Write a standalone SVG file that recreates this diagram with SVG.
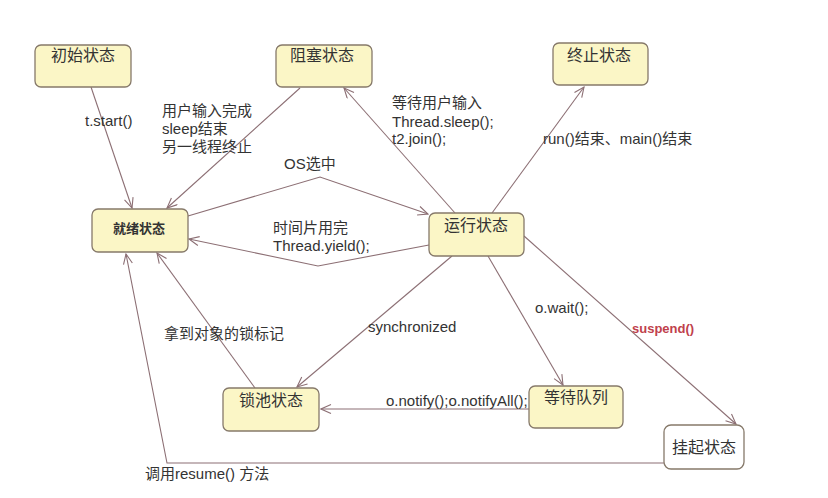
<svg xmlns="http://www.w3.org/2000/svg" width="828" height="498" viewBox="0 0 828 498">
<style>
.node{fill:#fbf6c6;stroke:#86796a;stroke-width:1.3}
.white{fill:#ffffff;stroke:#86796a;stroke-width:1.3}
.nt{font-family:"Noto Sans CJK SC","Liberation Sans",sans-serif;font-size:16px;fill:#333;text-anchor:middle}
.lb{font-family:"Liberation Sans","Noto Sans CJK SC",sans-serif;font-size:15px;fill:#333}
.conn{fill:none;stroke:#8c6f74;stroke-width:1.1;marker-end:url(#arr)}
</style>
<defs>
<marker id="arr" markerWidth="12" markerHeight="12" refX="11" refY="5" orient="auto" markerUnits="userSpaceOnUse">
<path d="M1,0.5 L11,5 L1,9.5" fill="none" stroke="#8c6f74" stroke-width="1.1"/>
</marker>
</defs>
<rect width="828" height="498" fill="#ffffff"/>
<g id="connectors">
<line class="conn" x1="91" y1="87" x2="132" y2="208"/>
<line class="conn" x1="300" y1="88" x2="167" y2="208"/>
<polyline class="conn" points="188,216 320,177 428,214"/>
<polyline class="conn" points="429,245 318,266 189,239"/>
<line class="conn" x1="455" y1="213" x2="344" y2="88"/>
<line class="conn" x1="492" y1="213" x2="584" y2="87"/>
<line class="conn" x1="452" y1="256" x2="297" y2="387"/>
<line class="conn" x1="255" y1="388" x2="157" y2="253"/>
<line class="conn" x1="488" y1="256" x2="563" y2="385"/>
<line class="conn" x1="529" y1="409" x2="321" y2="409"/>
<line class="conn" x1="524" y1="236" x2="736" y2="424"/>
<polyline class="conn" points="664,463 167,463 126,254"/>
</g>
<g id="n-init"><rect class="node" x="35" y="45" width="96" height="42" rx="6"/><text class="nt" x="83" y="61">初始状态</text></g>
<g id="n-block"><rect class="node" x="276" y="45" width="96" height="42" rx="6"/><text class="nt" x="322" y="61">阻塞状态</text></g>
<g id="n-end"><rect class="node" x="553" y="43" width="95" height="42" rx="6"/><text class="nt" x="599" y="61">终止状态</text></g>
<g id="n-ready"><rect class="node" x="92" y="209" width="96" height="43" rx="6"/><text class="nt" x="139" y="233" style="font-size:13px;font-weight:bold">就绪状态</text></g>
<g id="n-run"><rect class="node" x="429" y="213" width="95" height="43" rx="6"/><text class="nt" x="476" y="231">运行状态</text></g>
<g id="n-lock"><rect class="node" x="223" y="388" width="96" height="43" rx="6"/><text class="nt" x="271" y="406">锁池状态</text></g>
<g id="n-wait"><rect class="node" x="529" y="386" width="94" height="42" rx="6"/><text class="nt" x="576" y="403">等待队列</text></g>
<g id="n-susp"><rect class="white" x="664" y="425" width="80" height="44" rx="7"/><text class="nt" x="704" y="453">挂起状态</text></g>
<g id="labels">
<text class="lb" x="85" y="126">t.start()</text>
<text class="lb" x="162" y="116">用户输入完成</text>
<text class="lb" x="162" y="134">sleep结束</text>
<text class="lb" x="162" y="152">另一线程终止</text>
<text class="lb" x="284" y="169">OS选中</text>
<text class="lb" x="392" y="108">等待用户输入</text>
<text class="lb" x="392" y="127">Thread.sleep();</text>
<text class="lb" x="392" y="144">t2.join();</text>
<text class="lb" x="543" y="144">run()结束、main()结束</text>
<text class="lb" x="273" y="233">时间片用完</text>
<text class="lb" x="273" y="251">Thread.yield();</text>
<text class="lb" x="164" y="339">拿到对象的锁标记</text>
<text class="lb" x="368" y="332">synchronized</text>
<text class="lb" x="535" y="313">o.wait();</text>
<text class="lb" x="632" y="333" style="font-size:13px;font-weight:bold;fill:#c0414c">suspend()</text>
<text class="lb" x="386" y="406">o.notify();o.notifyAll();</text>
<text class="lb" x="145" y="479">调用resume() 方法</text>
</g>
</svg>
